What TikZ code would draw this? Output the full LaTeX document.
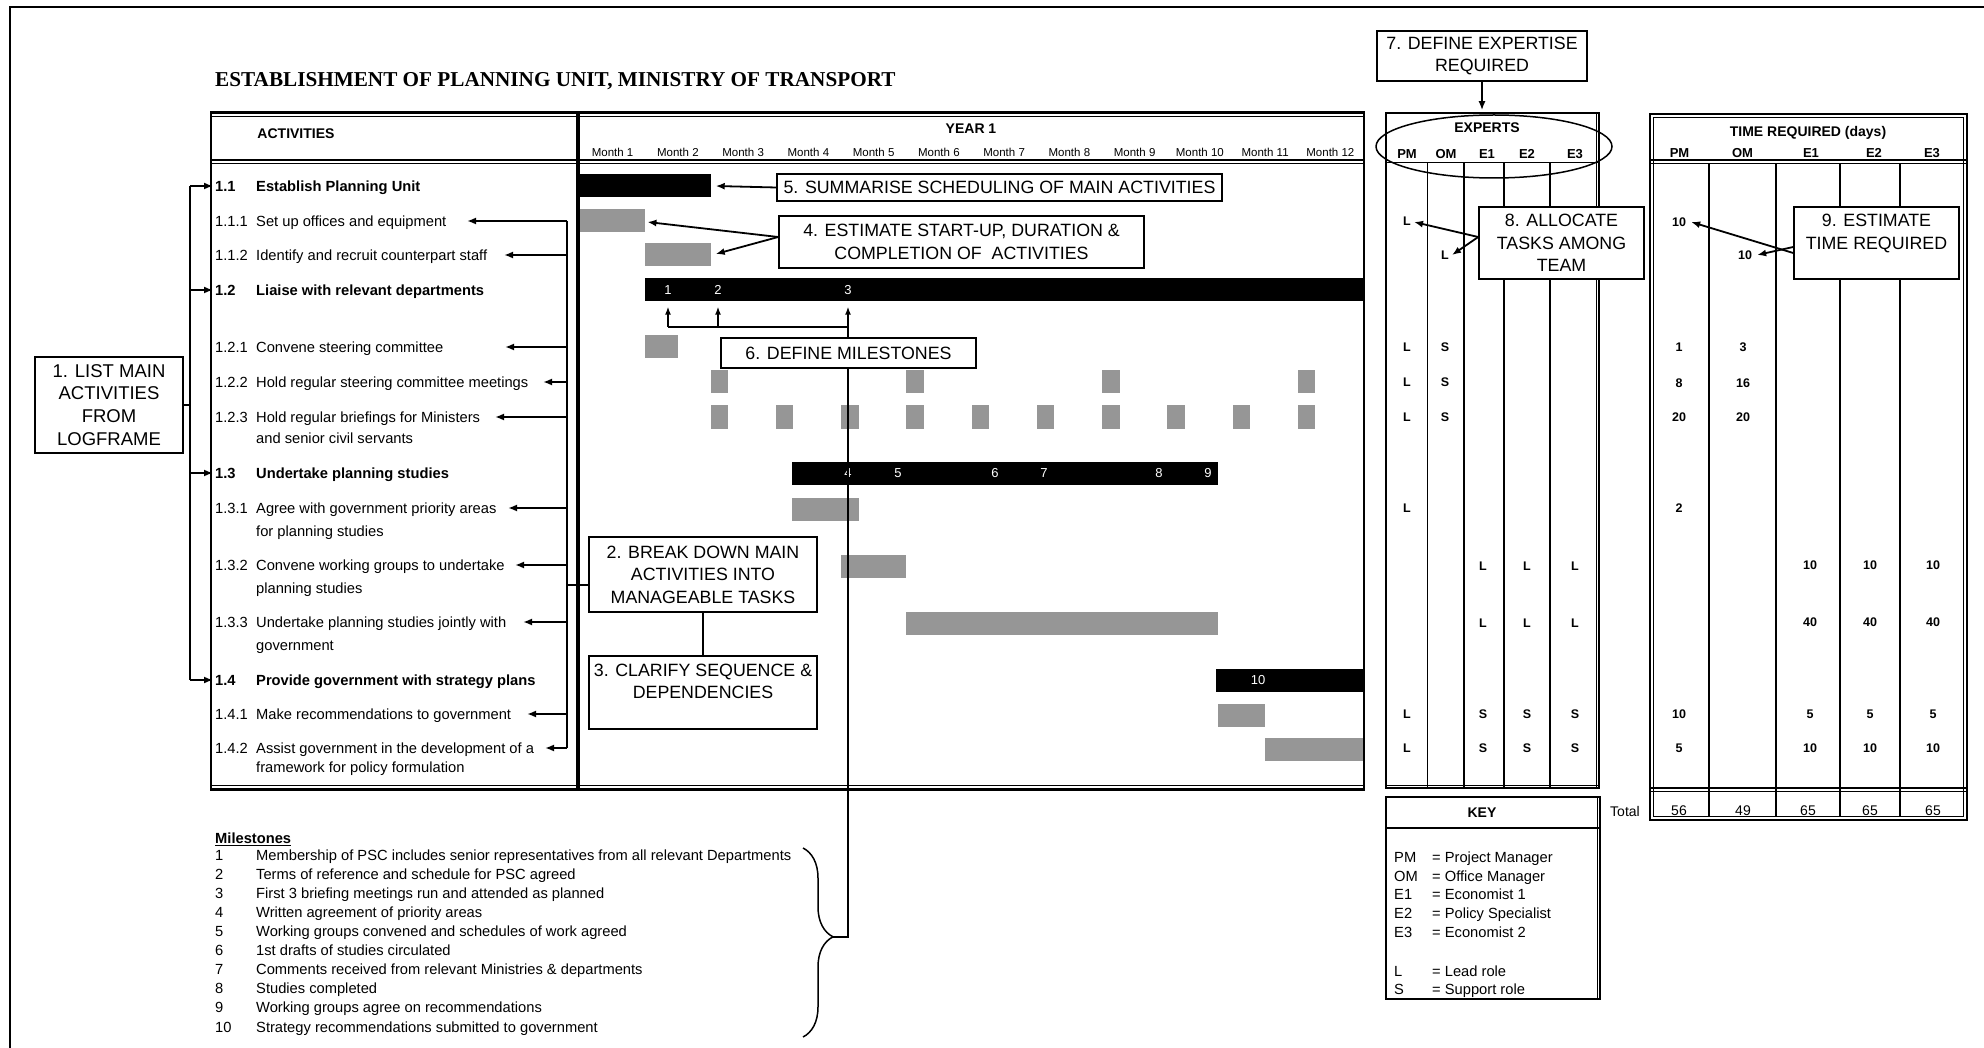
\documentclass[tikz,border=0pt]{standalone}
\usepackage{fontspec}
\setmainfont{Liberation Sans}
\newfontfamily\titleserif{Liberation Serif}
\usetikzlibrary{arrows.meta,fit,calc,shapes.geometric,decorations.pathreplacing}
\definecolor{bargrey}{RGB}{150,150,150}

\newcommand\txbody{\fontsize{14.7}{19}\selectfont}
\newcommand\txbold{\fontsize{14.7}{19}\selectfont\bfseries}
\newcommand\txhead{\fontsize{14}{16}\selectfont\bfseries}
\newcommand\txcol{\fontsize{13}{15}\selectfont\bfseries}
\newcommand\txmonth{\fontsize{11.5}{13}\selectfont}
\newcommand\txcell{\fontsize{12.5}{14}\selectfont\bfseries}
\newcommand\txnote{\fontsize{17.8}{22.5}\selectfont}
\newcommand\txmile{\fontsize{13}{15}\selectfont}
\newcommand\txtotal{\fontsize{14}{16}\selectfont}

% a schedule bar from month offset #2 to #3 on the row at height #4
\newcommand\ganttbar[5]{%
  \node[#5, fit={({580+65.25*(#2)},{#4-11.5}) ({580+65.25*(#3)},{#4+11.5})}] (#1) {};}

\begin{document}
\begin{tikzpicture}[x=1pt,y=-1pt,
  txt/.style={anchor=west, inner sep=0pt, text height=10.5pt, text depth=0pt, font=\txbody},
  txtb/.style={txt, font=\txbold},
  hdr/.style={font=\txhead, inner sep=0pt, text height=10pt, text depth=0pt},
  colh/.style={font=\txcol, inner sep=0pt, text height=9.3pt, text depth=0pt},
  cell/.style={font=\txcell, inner sep=0pt, text height=9pt, text depth=0pt},
  tot/.style={font=\txtotal, inner sep=0pt, text height=10pt, text depth=0pt},
  mnum/.style={text=white, font=\txmile, inner sep=0pt, text height=9.3pt, text depth=0pt},
  blk/.style={fill=black, draw=none, inner sep=0pt},
  gry/.style={fill=bargrey, draw=none, inner sep=0pt},
  note/.style={draw, line width=1.6, fill=white, font=\txnote, align=center, inner sep=0pt},
  arr/.style={-{Latex[length=9pt,width=7pt]}, line width=1.8},
  thinarr/.style={-{Latex[length=8pt,width=6pt]}, line width=1.4},
  conn/.style={line width=1.8}]

\useasboundingbox (0,0) rectangle (1984,1048);

% page frame
\draw[line width=2] (9.5,1048) -- (9.5,7.5) -- (1984,7.5);

% title
\node[anchor=base west, inner sep=0pt, font={\titleserif\fontsize{21.2}{24}\selectfont\bfseries}] (title) at (215,87)
  {ESTABLISHMENT OF PLANNING UNIT, MINISTRY OF TRANSPORT};

% ---------- activities and schedule table ----------
\draw[line width=2.5] (211,112.5) rectangle (1364,789.5);
\draw[line width=1] (211,116.5) -- (1364,116.5);
\draw[line width=1.5] (211,160) -- (1364,160);
\draw[line width=1] (211,164) -- (1364,164);
\draw[line width=1] (211,785.5) -- (1364,785.5);
\draw[line width=3.5] (578,112.5) -- (578,789.5);

\node[hdr] (acth) at (296,134) {ACTIVITIES};
\node[hdr] (yearh) at (971,129) {YEAR 1};
\foreach \m in {1,...,12}
  \node[font=\txmonth, inner sep=0pt, text height=8.2pt, text depth=0pt] (mon\m) at ({580+65.25*(\m-0.5)},152) {Month \m};

% activity list
\node[txtb] (k11) at (215,186) {1.1};   \node[txtb] (a11) at (256,186) {Establish Planning Unit};
\node[txt] (k111) at (215,221) {1.1.1}; \node[txt] (a111) at (256,221) {Set up offices and equipment};
\node[txt] (k112) at (215,255) {1.1.2}; \node[txt] (a112) at (256,255) {Identify and recruit counterpart staff};
\node[txtb] (k12) at (215,290) {1.2};   \node[txtb] (a12) at (256,290) {Liaise with relevant departments};
\node[txt] (k121) at (215,347) {1.2.1}; \node[txt] (a121) at (256,347) {Convene steering committee};
\node[txt] (k122) at (215,382) {1.2.2}; \node[txt] (a122) at (256,382) {Hold regular steering committee meetings};
\node[txt] (k123) at (215,417) {1.2.3}; \node[txt] (a123) at (256,417) {Hold regular briefings for Ministers};
\node[txt] (a123b) at (256,438) {and senior civil servants};
\node[txtb] (k13) at (215,473) {1.3};   \node[txtb] (a13) at (256,473) {Undertake planning studies};
\node[txt] (k131) at (215,508) {1.3.1}; \node[txt] (a131) at (256,508) {Agree with government priority areas};
\node[txt] (a131b) at (256,531) {for planning studies};
\node[txt] (k132) at (215,565) {1.3.2}; \node[txt] (a132) at (256,565) {Convene working groups to undertake};
\node[txt] (a132b) at (256,588) {planning studies};
\node[txt] (k133) at (215,622) {1.3.3}; \node[txt] (a133) at (256,622) {Undertake planning studies jointly with};
\node[txt] (a133b) at (256,645) {government};
\node[txtb] (k14) at (215,680) {1.4};   \node[txtb] (a14) at (256,680) {Provide government with strategy plans};
\node[txt] (k141) at (215,714) {1.4.1}; \node[txt] (a141) at (256,714) {Make recommendations to government};
\node[txt] (k142) at (215,748) {1.4.2}; \node[txt] (a142) at (256,748) {Assist government in the development of a};
\node[txt] (a142b) at (256,767) {framework for policy formulation};

% schedule bars
\ganttbar{b11}{0}{2}{186}{blk}
\ganttbar{b111}{0}{1}{221}{gry}
\ganttbar{b112}{1}{2}{255}{gry}
\ganttbar{b12}{1}{12}{290}{blk}
\ganttbar{b121}{1}{1.5}{347}{gry}
\foreach \s in {2,5,8,11} {\ganttbar{b122m\s}{\s}{\s+0.27}{382}{gry}}
\foreach \s in {2,...,11} {\ganttbar{b123m\s}{\s}{\s+0.27}{417}{gry}}
\ganttbar{b13}{3.25}{9.77}{473}{blk}
\ganttbar{b131}{3.25}{4.27}{509}{gry}
\ganttbar{b132}{4}{5}{566}{gry}
\ganttbar{b133}{5}{9.77}{623}{gry}
\ganttbar{b14}{9.75}{12}{680}{blk}
\ganttbar{b141}{9.77}{10.5}{715}{gry}
\ganttbar{b142}{10.5}{12}{749}{gry}

% milestone numbers on the summary bars
\node[mnum] (m1) at (668,290) {1};
\node[mnum] (m2) at (718,290) {2};
\node[mnum] (m3) at (848,290) {3};
\node[mnum] (m4) at (848,473) {4};
\node[mnum] (m5) at (898,473) {5};
\node[mnum] (m6) at (995,473) {6};
\node[mnum] (m7) at (1044,473) {7};
\node[mnum] (m8) at (1159,473) {8};
\node[mnum] (m9) at (1208,473) {9};
\node[mnum] (m10) at (1258,680) {10};

% bracket from step 1 to the main activities
\coordinate (lbtop) at (190,186);
\coordinate (lbbot) at (190,680);
\draw[conn] (lbtop) -- (lbbot);
\foreach \k in {11,12,13,14}
  \draw[arr] (lbtop |- k\k.west) -- ($(k\k.west)+(-2,0)$);

% bracket from step 2 to the tasks
\coordinate (abtop) at (567,221);
\coordinate (abbot) at (567,748);
\coordinate (abmid) at (567,585);
\draw[conn] (abtop) -- (abbot);
\foreach \t/\tx in {111/467,112/504,121/505,122/543,123/495,131/508,132/515,133/523,141/527,142/545}
  \draw[arr] (abtop |- a\t.east) -- (\tx,0 |- a\t.east);

% milestone definitions
\coordinate (mjoin) at (848,327);
\coordinate (bracetip) at (833,937);
\draw[line width=1.5] (mjoin -| m1) -- (mjoin);
\draw[thinarr] (mjoin -| m1) -- ($(m1 |- b12.south)+(0,5)$);
\draw[thinarr] (mjoin -| m2) -- ($(m2 |- b12.south)+(0,5)$);
\draw[thinarr] (bracetip) -| ($(m3 |- b12.south)+(0,5)$);

% step boxes on the schedule
\node[note, minimum width=148pt, minimum height=96pt, font={\fontsize{18.5}{22.8}\selectfont}] (n1) at (109,405)
  {1. LIST MAIN\\ACTIVITIES\\FROM\\LOGFRAME};
\node[note, minimum width=228pt, minimum height=75pt] (n2) at (703,574.5)
  {2. BREAK DOWN MAIN\\ACTIVITIES INTO\\MANAGEABLE TASKS};
\node[note, minimum width=228pt, minimum height=73pt] (n3) at (703,692.5)
  {3. CLARIFY SEQUENCE \&\\DEPENDENCIES\\~};
\node[note, minimum width=365pt, minimum height=52pt] (n4) at (961.5,242)
  {4. ESTIMATE START-UP, DURATION \&\\COMPLETION OF \ ACTIVITIES};
\node[note, minimum width=445pt, minimum height=27pt] (n5) at (999.5,187.5)
  {5. SUMMARISE SCHEDULING OF MAIN ACTIVITIES};
\node[note, minimum width=255pt, minimum height=30pt] (n6) at (848.5,353)
  {6. DEFINE MILESTONES};

\draw[conn] (n1.east) -- (n1.east -| lbtop);
\draw[conn] (abmid) -- (abmid -| n2.west);
\draw[line width=1.5] (n2.south) -- (n3.north);
\draw[arr] (n5.west) -- ($(b11.east)+(5,0)$);
\coordinate (n4s) at ($(n4.west)+(0,-5)$);
\draw[arr] (n4s) -- ($(b111.east)+(2,1)$);
\draw[arr] (n4s) -- ($(b112.east)+(5,-1)$);

% ---------- experts table ----------
\draw[line width=2.5] (1386,113) rectangle (1599,788);
\draw[line width=1] (1596,113) -- (1596,788);
\draw[line width=1] (1386,163) -- (1599,163);
\draw[line width=1] (1386,785) -- (1599,785);
\draw[line width=1] (1427,163) -- (1427,788);
\draw[line width=2] (1464,163) -- (1464,788);
\draw[line width=2] (1504,163) -- (1504,788);
\draw[line width=1.5] (1550,163) -- (1550,788);

\node[hdr] (exph) at (1487,128) {EXPERTS};
\foreach \x/\t in {1407/PM,1446/OM,1487/E1,1527/E2,1575/E3}
  \node[colh] (xh\t) at (\x,154) {\t};
\node[draw, ellipse, line width=1.5, minimum width=236pt, minimum height=63pt, inner sep=0pt] (expell) at (1494,146.5) {};

\node[cell] (xl111) at (1407,221) {L};
\node[cell] (xl112) at (1445,255) {L};
\foreach \x/\y/\t [count=\i] in {1407/347/L,1445/347/S,1407/382/L,1445/382/S,1407/417/L,1445/417/S,
  1407/508/L,1483/566/L,1527/566/L,1575/566/L,1483/623/L,1527/623/L,1575/623/L,
  1407/714/L,1483/714/S,1527/714/S,1575/714/S,1407/748/L,1483/748/S,1527/748/S,1575/748/S}
  \node[cell] (xc\i) at (\x,\y) {\t};

\node[note, minimum width=210pt, minimum height=50pt] (n7) at (1482,56) {7. DEFINE EXPERTISE\\REQUIRED};
\draw[arr] (n7.south) -- ($(n7.south |- expell.north)+(0,-4)$);

\node[note, minimum width=165pt, minimum height=72pt] (n8) at (1561.5,243) {8. ALLOCATE\\TASKS AMONG\\TEAM};
\coordinate (n8s) at ($(n8.west)+(0,-6)$);
\draw[arr] (n8s) -- ($(xl111.east)+(3,1)$);
\draw[arr] (n8s) -- ($(xl112.east)+(3,0)$);

% key
\draw[line width=2.5] (1386,797) rectangle (1600,999);
\draw[line width=1] (1597,797) -- (1597,999);
\draw[line width=2.5] (1386,828) -- (1600,828);
\node[hdr] (keyh) at (1482,812) {KEY};
\foreach \y/\a/\b [count=\i] in {857/PM/Project Manager,876/OM/Office Manager,894/E1/Economist 1,
  913/E2/Policy Specialist,932/E3/Economist 2,971/L/Lead role,989/S/Support role} {
  \node[txt] (kya\i) at (1394,\y) {\a};
  \node[txt] (kyb\i) at (1432,\y) {= \b};
}
\node[tot] (totlbl) at (1625,811) {Total};

% ---------- time required table ----------
\draw[line width=2.5] (1650,114) rectangle (1967,820);
\draw[line width=1] (1653.5,117.5) rectangle (1963.5,816.5);
\draw[line width=1.5] (1650,160) -- (1967,160);
\draw[line width=1] (1650,163.5) -- (1967,163.5);
\draw[line width=1.5] (1650,788) -- (1967,788);
\draw[line width=1] (1650,791.5) -- (1967,791.5);
\draw[line width=1.2] (1709,163.5) -- (1709,817);
\draw[line width=2] (1776,163.5) -- (1776,817);
\draw[line width=2] (1840,163.5) -- (1840,817);
\draw[line width=2] (1900,163.5) -- (1900,817);

\node[hdr] (timeh) at (1808,132) {TIME REQUIRED (days)};
\foreach \x/\t in {1679.5/PM,1742.5/OM,1811/E1,1874/E2,1932/E3}
  \node[colh] (th\t) at (\x,153) {\t};

\node[cell] (tv111) at (1679,222) {10};
\node[cell] (tv112) at (1745,255) {10};
\foreach \x/\y/\t [count=\i] in {1679/347/1,1743/347/3,1679/383/8,1743/383/16,1679/417/20,1743/417/20,
  1679/508/2,1810/565/10,1870/565/10,1933/565/10,1810/622/40,1870/622/40,1933/622/40,
  1679/714/10,1810/714/5,1870/714/5,1933/714/5,1679/748/5,1810/748/10,1870/748/10,1933/748/10}
  \node[cell] (tc\i) at (\x,\y) {\t};
\foreach \x/\t [count=\i] in {1679/56,1743/49,1808/65,1870/65,1933/65}
  \node[tot] (tt\i) at (\x,810) {\t};

\node[note, minimum width=165pt, minimum height=72pt] (n9) at (1876.5,243) {9. ESTIMATE\\TIME REQUIRED\\~};
\draw[arr] ($(n9.west)+(0,10)$) -- ($(tv111.east)+(5,0)$);
\draw[arr] ($(n9.west)+(0,4)$) -- ($(tv112.east)+(5,0)$);

% ---------- milestone list ----------
\node[txtb] (mshead) at (215,838) {\underline{Milestones}};
\foreach \y/\t [count=\i] in {
  855/Membership of PSC includes senior representatives from all relevant Departments,
  874/Terms of reference and schedule for PSC agreed,
  893/First 3 briefing meetings run and attended as planned,
  912/Written agreement of priority areas,
  931/Working groups convened and schedules of work agreed,
  950/1st drafts of studies circulated,
  969/Comments received from relevant Ministries \& departments,
  988/Studies completed,
  1007/Working groups agree on recommendations,
  1027/Strategy recommendations submitted to government} {
  \node[txt] (msn\i) at (215,\y) {\i};
  \node[txt] (mst\i) at (256,\y) {\t};
}
\draw[line width=1.5, decorate, decoration={brace, amplitude=30pt, aspect=0.47}] (803,848) -- (803,1037);

\end{tikzpicture}
\end{document}
